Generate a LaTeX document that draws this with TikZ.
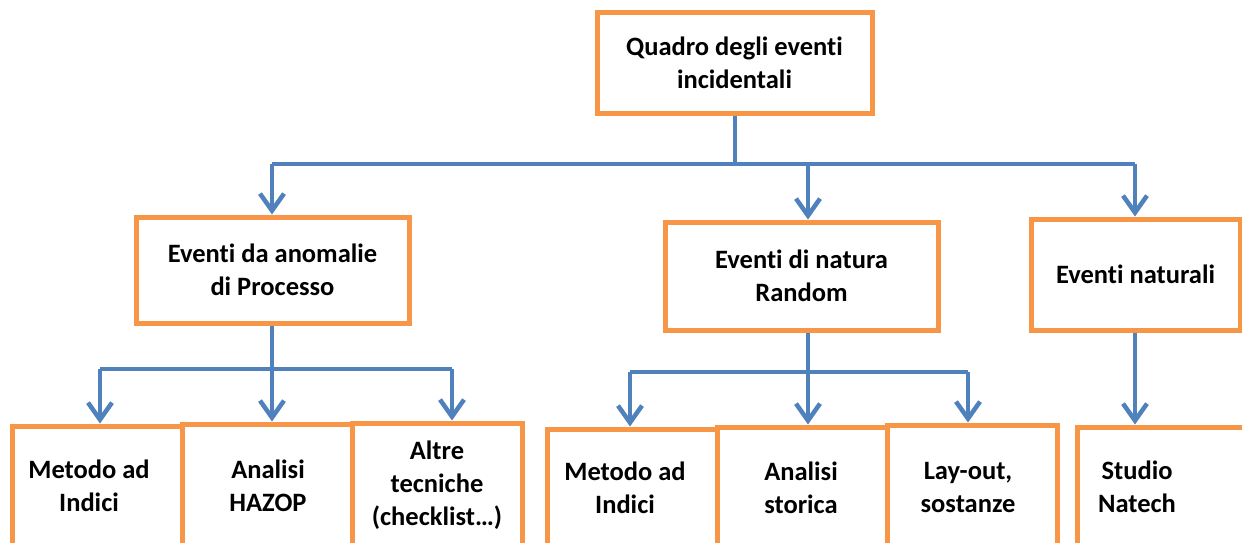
\documentclass[tikz,border=0pt]{standalone}
\usepackage{fontspec}
\setmainfont{Carlito}[Ligatures={NoCommon,NoContextual}]
\usetikzlibrary{arrows.meta,calc}
\definecolor{boxor}{HTML}{F79646}
\definecolor{linebl}{HTML}{4F81BD}
\tikzset{
  box/.style={draw=boxor, line width=5pt, fill=white, inner sep=0pt, align=center,
    font=\bfseries\fontsize{26.5}{33}\selectfont},
  txt/.style={inner sep=0pt, align=center, font=\bfseries\fontsize{26.5}{33}\selectfont},
  lowbox/.style={box, minimum width=170, minimum height=150},
  conn/.style={draw=linebl, line width=4.5pt},
  arr/.style={conn, -{Straight Barb[length=17pt,width=24pt]}},
}
\begin{document}
\begin{tikzpicture}[x=1pt,y=-1pt]
\clip (0,0) rectangle (1242,542);
\fill[white] (0,0) rectangle (1242,542);
% level 1
\node[box, minimum width=275, minimum height=101] (top) at (734.5,62.5) {Quadro degli eventi\\incidentali};
% level 2
\node[box, minimum width=273, minimum height=106] (b1) at (272.5,270) {Eventi da anomalie\\di Processo};
\node[box, minimum width=273, minimum height=108] (b2) at (801.5,276) {Eventi di natura\\Random};
\node[box, minimum width=209, minimum height=111] (b3) at (1135.5,274.5) {Eventi naturali};
% level 3, group 1 (boxes run past the lower edge)
\node[lowbox] (c1) at (97,501) {};
\node[lowbox] (c2) at (267,499) {};
\node[lowbox] (c3) at (437,498) {};
\node[txt] (c1t) at (89,486) {Metodo ad\\Indici};
\node[txt] (c2t) at (268,486) {Analisi\\HAZOP};
\node[txt] (c3t) at (437,485) {Altre\\tecniche\\(checklist…)};
% level 3, group 2
\node[lowbox] (d1) at (632,504) {};
\node[lowbox] (d2) at (802,502) {};
\node[lowbox] (d3) at (972,500) {};
\node[txt] (d1t) at (625,488) {Metodo ad\\Indici};
\node[txt] (d2t) at (801,488) {Analisi\\storica};
\node[txt] (d3t) at (968,487) {Lay-out,\\sostanze};
% level 3, right
\node[box, minimum width=175, minimum height=150] (e1) at (1164.5,502) {};
\node[txt] (e1t) at (1137,487) {Studio\\Natech};
% connectors level 1 -> 2
\coordinate (j1) at (735,164);
\coordinate (a1) at (272,164);
\coordinate (a2) at (808,164);
\coordinate (a3) at (1135,164);
\draw[conn] (top.south -| j1) -- (j1);
\draw[conn] (a1) -- (a3);
\draw[arr] (a1) -- (a1 |- b1.north);
\draw[arr] (a2) -- (a2 |- b2.north);
\draw[arr] (a3) -- (a3 |- b3.north);
% group 1
\coordinate (g1) at (272,369);
\coordinate (g1a) at (100,369);
\coordinate (g1c) at (452,369);
\draw[conn] (b1.south -| g1) -- (g1);
\draw[conn] (g1a) -- (g1c);
\draw[arr] (g1a) -- (g1a |- c1.north);
\draw[arr] (g1) -- (g1 |- c2.north);
\draw[arr] (g1c) -- (g1c |- c3.north);
% group 2
\coordinate (g2) at (808,372);
\coordinate (g2a) at (630,372);
\coordinate (g2c) at (968,372);
\draw[conn] (b2.south -| g2) -- (g2);
\draw[conn] (g2a) -- (g2c);
\draw[arr] (g2a) -- (g2a |- d1.north);
\draw[arr] (g2) -- (g2 |- d2.north);
\draw[arr] (g2c) -- (g2c |- d3.north);
% right
\coordinate (g3) at (1135,330);
\draw[arr] (b3.south -| g3) -- (g3 |- e1.north);
\end{tikzpicture}
\end{document}
